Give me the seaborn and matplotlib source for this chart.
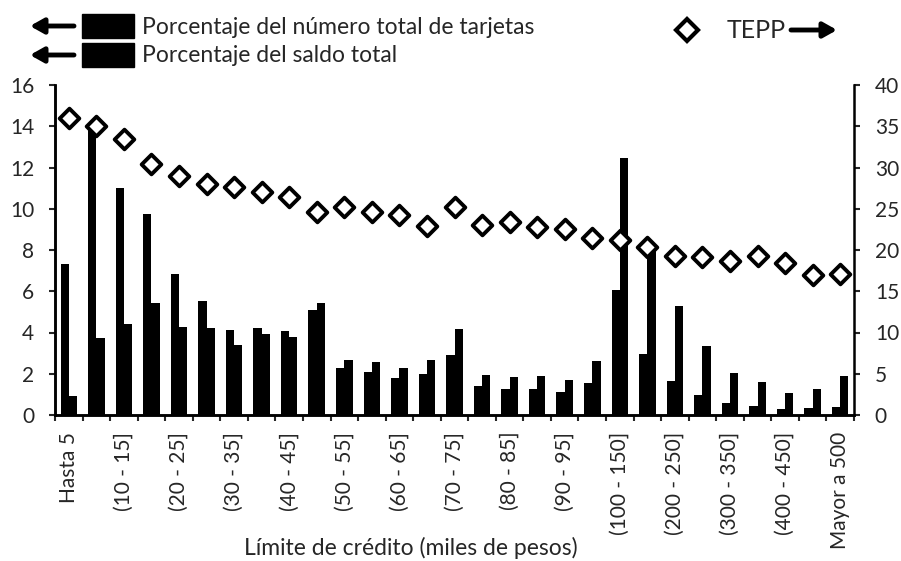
import numpy as np
import pandas as pd
import seaborn as sns
import matplotlib.pyplot as plt
from matplotlib.patches import Rectangle
from matplotlib.lines import Line2D

# Categorías de límite de crédito (miles de pesos)
categorias = ['Hasta 5', '(5 - 10]', '(10 - 15]', '(15 - 20]', '(20 - 25]', '(25 - 30]',
              '(30 - 35]', '(35 - 40]', '(40 - 45]', '(45 - 50]', '(50 - 55]', '(55 - 60]',
              '(60 - 65]', '(65 - 70]', '(70 - 75]', '(75 - 80]', '(80 - 85]', '(85 - 90]',
              '(90 - 95]', '(95 - 100]', '(100 - 150]', '(150 - 200]', '(200 - 250]',
              '(250 - 300]', '(300 - 350]', '(350 - 400]', '(400 - 450]', '(450 - 500]',
              'Mayor a 500']

# Porcentaje del número total de tarjetas (eje izquierdo)
pct_tarjetas = [7.3, 14.1, 11.0, 9.75, 6.85, 5.55, 4.1, 4.2, 4.05, 5.1, 2.3, 2.1, 1.8, 2.0,
                2.9, 1.4, 1.25, 1.25, 1.1, 1.55, 6.05, 2.95, 1.65, 0.95, 0.6, 0.45, 0.3,
                0.35, 0.4]
# Porcentaje del saldo total (eje izquierdo)
pct_saldo = [0.92, 3.75, 4.43, 5.42, 4.25, 4.2, 3.4, 3.92, 3.77, 5.42, 2.68, 2.55, 2.3, 2.65,
             4.15, 1.95, 1.85, 1.9, 1.7, 2.6, 12.45, 8.2, 5.3, 3.35, 2.05, 1.62, 1.05, 1.25,
             1.9]
# TEPP (eje derecho)
tepp = [36.0, 35.0, 33.4, 30.4, 29.0, 28.0, 27.6, 27.0, 26.4, 24.6, 25.2, 24.6, 24.3, 22.9,
        25.2, 23.0, 23.4, 22.8, 22.5, 21.5, 21.2, 20.4, 19.3, 19.2, 18.7, 19.3, 18.4, 17.0,
        17.1]

serie_1 = 'Porcentaje del número total de tarjetas'
serie_2 = 'Porcentaje del saldo total'

df = pd.DataFrame({
    'categoria': categorias * 2,
    'valor': pct_tarjetas + pct_saldo,
    'serie': [serie_1] * len(categorias) + [serie_2] * len(categorias),
})

sns.set_style('ticks')
plt.rcParams['font.family'] = ['Lato', 'DejaVu Sans']
FS = 15

fig = plt.figure(figsize=(9.01, 5.61), dpi=100)
W, H = 901, 561
ax = fig.add_axes([55 / W, 1 - 415 / H, (854 - 55) / W, (415 - 85) / H])

sns.barplot(data=df, x='categoria', y='valor', hue='serie', order=categorias,
            palette=['black', 'black'], saturation=1, width=0.6, gap=0,
            linewidth=0, legend=False, ax=ax)

ax.set_xlim(-0.5, len(categorias) - 0.5)
ax.set_ylim(0, 16)
ax.set_yticks(range(0, 17, 2))
ax.set_xticks(range(0, len(categorias), 2))
ax.set_xticklabels(categorias[::2], rotation=90, fontsize=FS)
ax.set_xticks(np.arange(-0.5, len(categorias), 1), minor=True)
ax.tick_params(axis='x', which='major', length=0, pad=12)
ax.tick_params(axis='x', which='minor', length=4, width=1.5, direction='out')
ax.tick_params(axis='y', length=4, width=1.5, pad=11, labelsize=FS)
ax.set_ylabel('')
ax.set_xlabel('Límite de crédito (miles de pesos)', fontsize=16.5, va='center')
ax.xaxis.set_label_coords((411 - 55) / (854 - 55), -(548 - 415) / (415 - 85))

ax2 = ax.twinx()
sns.scatterplot(x=np.arange(len(categorias)), y=tepp, marker='D', s=100, color='white',
                edgecolor='black', linewidth=2.8, ax=ax2, zorder=3)
ax2.set_ylim(0, 40)
ax2.set_yticks(range(0, 41, 5))
ax2.tick_params(axis='y', length=4, width=1.5, pad=11, labelsize=FS)
ax2.set_ylabel('')

for a in (ax, ax2):
    a.spines['top'].set_visible(False)
    for s in ('left', 'right', 'bottom'):
        a.spines[s].set_linewidth(1.8)
        a.spines[s].set_color('black')
ax.spines['right'].set_visible(False)

# Leyenda manual con flechas
def fx(px):
    return px / W

def fy(py):
    return 1 - py / H

arrow = dict(arrowstyle='-|>,head_length=0.8,head_width=0.45', lw=3.5, color='black',
             shrinkA=0, shrinkB=0)
for yy, txt in ((26, serie_1), (55, serie_2)):
    fig.add_artist(plt.Annotation('', xy=(fx(30), fy(yy)), xytext=(fx(74), fy(yy)),
                                  xycoords='figure fraction', textcoords='figure fraction',
                                  arrowprops=arrow))
    fig.add_artist(Rectangle((fx(82), fy(yy + 12)), fx(52), 24 / H, color='black',
                             transform=fig.transFigure))
    fig.text(fx(142), fy(yy + 1), txt, fontsize=16.5, va='center', ha='left')

fig.add_artist(Line2D([fx(687)], [fy(30)], marker='D', markersize=11.5, markerfacecolor='white',
                      markeredgecolor='black', markeredgewidth=3, transform=fig.transFigure))
fig.text(fx(727), fy(31), 'TEPP', fontsize=18, va='center', ha='left')
fig.add_artist(plt.Annotation('', xy=(fx(837), fy(30)), xytext=(fx(791), fy(30)),
                              xycoords='figure fraction', textcoords='figure fraction',
                              arrowprops=arrow))

fig.savefig('out.png', dpi=100)
